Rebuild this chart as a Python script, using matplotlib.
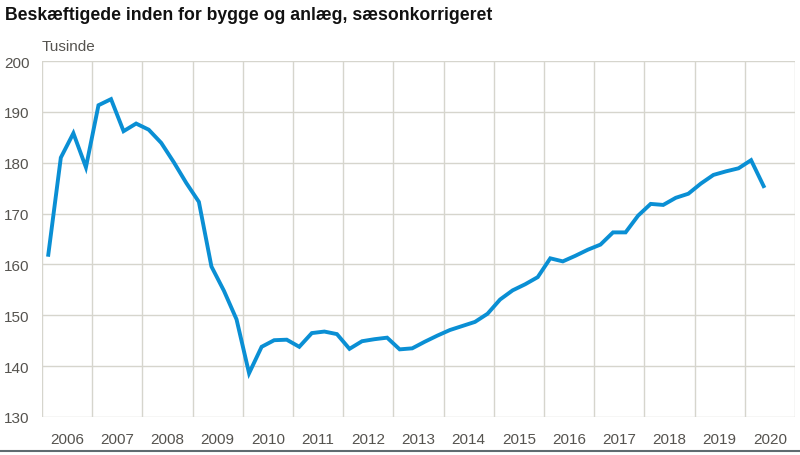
import matplotlib
matplotlib.use("Agg")
import matplotlib.pyplot as plt
from matplotlib.lines import Line2D
import numpy as np

years = [str(y) for y in range(2006, 2021)]
yticks = [130, 140, 150, 160, 170, 180, 190, 200]
# quarterly values, 2006Q1 - 2020Q2 (thousands)
values = [
    161.9, 181.0, 185.8, 179.1, 191.3, 192.5, 186.2, 187.7,
    186.5, 183.9, 180.1, 176.0, 172.3, 159.6, 154.8, 149.2,
    138.6, 143.8, 145.1, 145.2, 143.8, 146.5, 146.8, 146.3,
    143.4, 144.9, 145.3, 145.6, 143.3, 143.5, 144.8, 146.0,
    147.1, 147.9, 148.7, 150.3, 153.1, 154.9, 156.1, 157.5,
    161.2, 160.6, 161.7, 162.9, 163.9, 166.3, 166.3, 169.6,
    171.9, 171.7, 173.1, 173.9, 175.9, 177.6, 178.3, 178.9,
    180.5, 175.4,
]

fontfam = ['Liberation Sans', 'DejaVu Sans']
tcol = '#55534f'
gcol = '#d6d5cd'

fig = plt.figure(figsize=(8, 4.56), dpi=100)
ax = fig.add_axes([42/800, 1-418/456, (795-42)/800, (418-62)/456])

x = (np.arange(len(values)) + 0.5) / 4.0
ax.plot(x, values, color='#0a8fd4', lw=2.8, solid_joinstyle='miter', zorder=3)

ax.set_xlim(0, len(years))
ax.set_ylim(130, 200)
ax.set_yticks(yticks)
ax.set_yticklabels([str(v) for v in yticks], family=fontfam, fontsize=11, color=tcol)
ax.set_xticks(np.arange(len(years) + 1))
ax.set_xticklabels([])
ax.set_xticks(np.arange(len(years)) + 0.5, minor=True)
ax.set_xticklabels(years, minor=True, family=fontfam, fontsize=11, color=tcol)
ax.tick_params(axis='both', which='both', length=0)
ax.tick_params(axis='x', which='minor', pad=11)
ax.tick_params(axis='y', pad=9)
ax.grid(True, which='major', color=gcol, lw=1.0, zorder=0)
for s in ax.spines.values():
    s.set_visible(False)

fig.text(5/800, 1-20/456, 'Beskæftigede inden for bygge og anlæg, sæsonkorrigeret',
         fontsize=12.7, fontweight='bold', family=fontfam,
         color='#111111', va='baseline', ha='left')
fig.text(42/800, 1-51/456, 'Tusinde', family=fontfam, fontsize=11, color=tcol,
         va='baseline', ha='left')

fig.add_artist(Line2D([0, 1], [1-452/456, 1-452/456], transform=fig.transFigure,
                      color='#5f6b70', lw=1.5))

fig.savefig('out.png', dpi=100)
